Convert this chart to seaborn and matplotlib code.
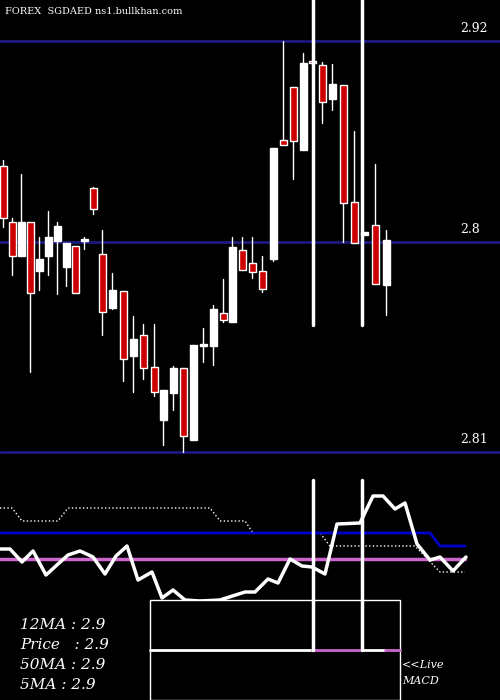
import numpy as np
import pandas as pd
import matplotlib
matplotlib.use("Agg")
import matplotlib.pyplot as plt
import seaborn as sns

# candle data in chart (screen) units: x, open, close, high, low
cx = [3, 12, 21, 30, 39, 48, 57, 66, 75, 84, 93, 102, 112, 123, 133, 143, 154, 163, 173, 183,
      193, 203, 213, 223, 232, 242, 252, 262, 273, 283, 293, 303, 312, 322, 332, 343, 354, 364, 375, 386]
c_top = [166, 222, 222, 222, 259, 237, 226, 243, 246, 239, 188, 254, 290, 291, 339, 335, 367, 390, 368, 368,
         345, 344, 309, 313, 247, 250, 263, 271, 148, 140, 87, 63, 61, 65, 84, 85, 202, 232, 225, 240]
c_bot = [218, 256, 256, 293, 271, 256, 241, 267, 293, 241, 209, 312, 308, 359, 356, 368, 392, 420, 393, 436,
         440, 346, 346, 320, 322, 270, 272, 289, 259, 145, 141, 150, 63, 102, 99, 203, 243, 235, 284, 285]
c_high = [160, 218, 174, 222, 237, 211, 222, 243, 246, 237, 187, 230, 273, 291, 316, 324, 324, 390, 366, 368,
          345, 328, 305, 279, 237, 237, 237, 256, 148, 41, 87, 53, 61, 62, 64, 85, 131, 232, 164, 230]
c_low = [227, 275, 256, 372, 290, 275, 294, 286, 293, 249, 214, 335, 309, 381, 392, 379, 396, 445, 410, 452,
         440, 362, 365, 322, 322, 270, 278, 292, 261, 145, 179, 150, 63, 123, 110, 242, 243, 235, 284, 315]
c_red = [1, 1, 0, 1, 0, 0, 0, 0, 1, 0, 1, 1, 0, 1, 0, 1, 1, 0, 0, 1,
         0, 0, 0, 1, 0, 1, 1, 1, 0, 1, 1, 0, 1, 1, 0, 1, 1, 0, 1, 0]

macd_x = [0, 10, 22, 33, 46, 58, 68, 80, 93, 105, 116, 127, 138, 152, 162, 173, 185, 200, 220, 245,
          255, 268, 278, 290, 302, 312, 325, 337, 360, 373, 383, 395, 405, 417, 430, 440, 453, 466]
macd_y = [549, 549, 562, 551, 575, 564, 555, 551, 557, 574, 556, 546, 580, 572, 598, 590, 600, 601, 600, 592,
          592, 579, 583, 559, 566, 567, 574, 524, 523, 496, 496, 509, 503, 544, 560, 557, 571, 557]
sig_x = [0, 12, 22, 58, 68, 210, 220, 245, 253, 320, 330, 415, 440, 465]
sig_y = [508, 508, 521, 521, 508, 508, 521, 521, 533, 533, 546, 546, 572, 572]
avg_x = [0, 430, 440, 465]
avg_y = [533, 533, 546, 546]
levels = [41, 242, 452]
level_labels = ["2.92", "2.8", "2.81"]
info = ["12MA : 2.9", "Price   : 2.9", "50MA : 2.9", "5MA : 2.9"]

sns.set_style("dark", {"axes.facecolor": "black", "figure.facecolor": "black"})
fig = plt.figure(figsize=(5, 7), dpi=100)
ax = fig.add_axes([0, 0, 1, 1])
ax.set_xlim(0, 500)
ax.set_ylim(700, 0)
ax.axis("off")

for lv, lab in zip(levels, level_labels):
    ax.axhline(lv, color="#1a1a80", lw=2)
    ax.text(460, lv - 6, lab, color="white", fontsize=9, family="DejaVu Serif", va="bottom")
ax.text(5, 12, "FOREX  SGDAED ns1.bullkhan.com", color="white", fontsize=7, family="DejaVu Serif", va="center")

for x, t, b, h, l, r in zip(cx, c_top, c_bot, c_high, c_low, c_red):
    ax.plot([x, x], [h, l], color="white", lw=1, zorder=2)
    ax.add_patch(plt.Rectangle((x - 3.5, t), 7, max(b - t, 1.5),
                               facecolor="#cc0000" if r else "white",
                               edgecolor="white", lw=1, zorder=3))

for vx in [313, 362]:
    ax.plot([vx, vx], [0, 325], color="white", lw=2.5, zorder=4)
    ax.plot([vx, vx], [480, 650], color="white", lw=2.5, zorder=4)

sns.lineplot(x=sig_x, y=sig_y, ax=ax, color="white", lw=1, linestyle=":", sort=False)
sns.lineplot(x=avg_x, y=avg_y, ax=ax, color="#0000cc", lw=2, sort=False)
ax.plot([0, 465], [559, 559], color="#cc66cc", lw=2.5)
sns.lineplot(x=macd_x, y=macd_y, ax=ax, color="white", lw=2.5, sort=False)

ax.add_patch(plt.Rectangle((150, 600), 250, 100, facecolor="black", edgecolor="white", lw=1, zorder=5))
ax.plot([150, 312], [650, 650], color="white", lw=2, zorder=6)
ax.plot([312, 362], [650, 650], color="#cc66cc", lw=2, zorder=6)
ax.plot([362, 385], [650, 650], color="white", lw=2, zorder=6)
ax.plot([385, 400], [650, 650], color="#cc66cc", lw=2, zorder=6)
ax.plot([313, 313], [600, 650], color="white", lw=2.5, zorder=7)
ax.plot([362, 362], [600, 650], color="white", lw=2.5, zorder=7)

for i, s in enumerate(info):
    ax.text(20, 625 + i * 20, s, color="white", fontsize=11, family="DejaVu Serif",
            style="italic", va="center")
ax.text(402, 665, "<<Live", color="white", fontsize=8, family="DejaVu Serif", style="italic", va="center")
ax.text(402, 681, "MACD", color="white", fontsize=8, family="DejaVu Serif", style="italic", va="center")

fig.savefig("out.png", dpi=100, facecolor="black")
